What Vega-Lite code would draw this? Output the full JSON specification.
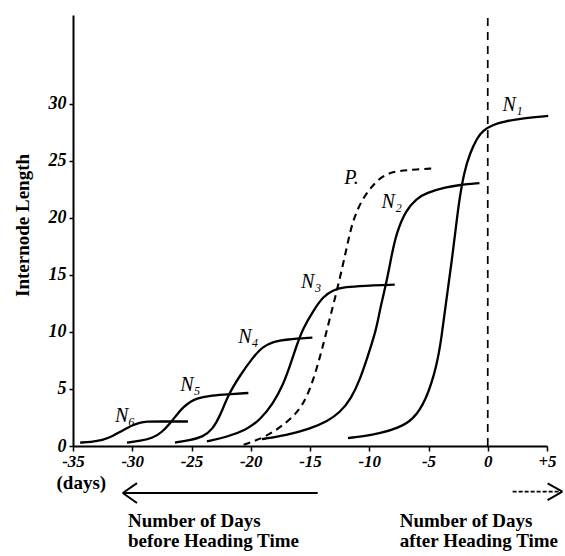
{
  "$schema": "https://vega.github.io/schema/vega-lite/v6.json",
  "width": 474,
  "height": 431,
  "autosize": "none",
  "padding": {"left": 73, "top": 15, "right": 18, "bottom": 110},
  "background": "white",
  "config": {"view": {"stroke": null}},
  "datasets": {
    "curves": [
      {"series": "N6", "day": -34.4, "length": 0.3},
      {"series": "N6", "day": -33.5, "length": 0.35},
      {"series": "N6", "day": -32.5, "length": 0.5},
      {"series": "N6", "day": -31.7, "length": 0.85},
      {"series": "N6", "day": -31.0, "length": 1.25},
      {"series": "N6", "day": -30.4, "length": 1.6},
      {"series": "N6", "day": -29.9, "length": 1.85},
      {"series": "N6", "day": -29.4, "length": 2.05},
      {"series": "N6", "day": -28.8, "length": 2.15},
      {"series": "N6", "day": -27.5, "length": 2.15},
      {"series": "N6", "day": -25.3, "length": 2.15},
      {"series": "N5", "day": -30.45, "length": 0.3},
      {"series": "N5", "day": -29.3, "length": 0.45},
      {"series": "N5", "day": -28.25, "length": 0.7},
      {"series": "N5", "day": -27.5, "length": 1.2},
      {"series": "N5", "day": -26.8, "length": 2.0},
      {"series": "N5", "day": -26.2, "length": 2.8},
      {"series": "N5", "day": -25.7, "length": 3.4},
      {"series": "N5", "day": -25.1, "length": 3.9},
      {"series": "N5", "day": -24.5, "length": 4.2},
      {"series": "N5", "day": -23.5, "length": 4.4},
      {"series": "N5", "day": -22.5, "length": 4.5},
      {"series": "N5", "day": -20.2, "length": 4.65},
      {"series": "N4", "day": -26.4, "length": 0.3},
      {"series": "N4", "day": -25.2, "length": 0.5},
      {"series": "N4", "day": -24.0, "length": 0.8},
      {"series": "N4", "day": -23.2, "length": 1.5},
      {"series": "N4", "day": -22.6, "length": 2.6},
      {"series": "N4", "day": -21.9, "length": 4.5},
      {"series": "N4", "day": -20.9, "length": 6.2},
      {"series": "N4", "day": -19.8, "length": 7.8},
      {"series": "N4", "day": -19.0, "length": 8.7},
      {"series": "N4", "day": -18.1, "length": 9.15},
      {"series": "N4", "day": -17.0, "length": 9.35},
      {"series": "N4", "day": -14.8, "length": 9.5},
      {"series": "N3", "day": -23.7, "length": 0.4},
      {"series": "N3", "day": -22.0, "length": 0.8},
      {"series": "N3", "day": -20.4, "length": 1.4},
      {"series": "N3", "day": -19.2, "length": 2.3},
      {"series": "N3", "day": -18.1, "length": 3.75},
      {"series": "N3", "day": -17.3, "length": 5.3},
      {"series": "N3", "day": -16.7, "length": 7.0},
      {"series": "N3", "day": -16.1, "length": 8.9},
      {"series": "N3", "day": -15.6, "length": 10.3},
      {"series": "N3", "day": -14.7, "length": 11.9},
      {"series": "N3", "day": -13.9, "length": 13.1},
      {"series": "N3", "day": -13.05, "length": 13.7},
      {"series": "N3", "day": -12.0, "length": 13.95},
      {"series": "N3", "day": -10.5, "length": 14.05},
      {"series": "N3", "day": -7.85, "length": 14.15},
      {"series": "P", "day": -20.6, "length": 0.1},
      {"series": "P", "day": -18.7, "length": 0.8},
      {"series": "P", "day": -17.0, "length": 2.0},
      {"series": "P", "day": -15.6, "length": 3.45},
      {"series": "P", "day": -14.7, "length": 5.8},
      {"series": "P", "day": -14.0, "length": 8.4},
      {"series": "P", "day": -13.3, "length": 11.3},
      {"series": "P", "day": -12.5, "length": 14.6},
      {"series": "P", "day": -11.9, "length": 17.4},
      {"series": "P", "day": -11.4, "length": 19.8},
      {"series": "P", "day": -10.5, "length": 21.9},
      {"series": "P", "day": -9.1, "length": 23.6},
      {"series": "P", "day": -8.0, "length": 24.05},
      {"series": "P", "day": -6.9, "length": 24.2},
      {"series": "P", "day": -4.5, "length": 24.35},
      {"series": "N2", "day": -19.06, "length": 0.6},
      {"series": "N2", "day": -17.0, "length": 0.95},
      {"series": "N2", "day": -15.0, "length": 1.5},
      {"series": "N2", "day": -13.5, "length": 2.2},
      {"series": "N2", "day": -12.5, "length": 2.9},
      {"series": "N2", "day": -11.5, "length": 4.2},
      {"series": "N2", "day": -10.8, "length": 5.8},
      {"series": "N2", "day": -10.24, "length": 7.5},
      {"series": "N2", "day": -9.4, "length": 10.2},
      {"series": "N2", "day": -9.1, "length": 12.0},
      {"series": "N2", "day": -8.55, "length": 14.3},
      {"series": "N2", "day": -8.1, "length": 16.8},
      {"series": "N2", "day": -7.7, "length": 18.7},
      {"series": "N2", "day": -6.9, "length": 20.7},
      {"series": "N2", "day": -6.0, "length": 21.7},
      {"series": "N2", "day": -5.2, "length": 22.2},
      {"series": "N2", "day": -3.5, "length": 22.7},
      {"series": "N2", "day": -2.4, "length": 22.9},
      {"series": "N2", "day": -0.7, "length": 23.05},
      {"series": "N1", "day": -11.8, "length": 0.7},
      {"series": "N1", "day": -10.5, "length": 0.85},
      {"series": "N1", "day": -9.1, "length": 1.1},
      {"series": "N1", "day": -7.5, "length": 1.6},
      {"series": "N1", "day": -6.3, "length": 2.3},
      {"series": "N1", "day": -5.2, "length": 4.0},
      {"series": "N1", "day": -4.3, "length": 7.0},
      {"series": "N1", "day": -3.9, "length": 9.5},
      {"series": "N1", "day": -3.5, "length": 12.8},
      {"series": "N1", "day": -3.1, "length": 15.7},
      {"series": "N1", "day": -2.65, "length": 19.5},
      {"series": "N1", "day": -2.4, "length": 21.6},
      {"series": "N1", "day": -2.0, "length": 24.0},
      {"series": "N1", "day": -1.5, "length": 25.7},
      {"series": "N1", "day": -0.9, "length": 27.0},
      {"series": "N1", "day": -0.4, "length": 27.7},
      {"series": "N1", "day": 0.5, "length": 28.2},
      {"series": "N1", "day": 1.3, "length": 28.45},
      {"series": "N1", "day": 3.0, "length": 28.75},
      {"series": "N1", "day": 5.1, "length": 28.95}
    ],
    "labels": [
      {"label": "N₁", "day": 2.1, "length": 29.9},
      {"label": "N₂", "day": -8.1, "length": 21.4},
      {"label": "N₃", "day": -14.9, "length": 14.4},
      {"label": "N₄", "day": -20.2, "length": 9.6},
      {"label": "N₅", "day": -25.1, "length": 5.35},
      {"label": "N₆", "day": -30.6, "length": 2.6},
      {"label": "P.", "day": -11.5, "length": 23.5}
    ],
    "heading": [{"day": 0, "y1": 0, "y2": 38}],
    "notes": [
      {"text": "Number of Days", "day": -30.36, "length": -7.1},
      {"text": "before Heading Time", "day": -30.36, "length": -8.86},
      {"text": "Number of Days", "day": -7.43, "length": -7.1},
      {"text": "after Heading Time", "day": -7.43, "length": -8.86}
    ],
    "unit": [{"text": "(days)", "day": -34.3, "length": -3.75}],
    "arrowSolid": [
      {"x1": -30.8, "x2": -14.35, "y1": -4.12, "y2": -4.12},
      {"x1": -30.8, "x2": -29.6, "y1": -4.12, "y2": -3.25},
      {"x1": -30.8, "x2": -29.6, "y1": -4.12, "y2": -5.0},
      {"x1": 6.3, "x2": 5.05, "y1": -4.0, "y2": -3.27},
      {"x1": 6.3, "x2": 5.05, "y1": -4.0, "y2": -4.74}
    ],
    "arrowDashed": [
      {"x1": 2.1, "x2": 6.2, "y1": -4.0, "y2": -4.0}
    ]
  },
  "layer": [
    {
      "data": {"name": "curves"},
      "transform": [{"filter": "datum.series !== 'P'"}],
      "mark": {"type": "line", "interpolate": "basis", "color": "black", "strokeWidth": 2.3},
      "encoding": {
        "x": {
          "field": "day", "type": "quantitative",
          "scale": {"domain": [-35, 5], "nice": false, "zero": false},
          "axis": {
            "values": [-35, -30, -25, -20, -15, -10, -5, 0, 5],
            "labelExpr": "datum.value > 0 ? '+' + datum.value : '' + datum.value",
            "title": null, "grid": false,
            "domainColor": "black", "domainWidth": 2,
            "tickColor": "black", "tickWidth": 1.5, "tickSize": 5,
            "labelFont": "Liberation Serif", "labelFontStyle": "italic", "labelFontWeight": "bold", "labelFontSize": 17,
            "labelColor": "black", "labelPadding": 2, "labelFlush": false
          }
        },
        "y": {
          "field": "length", "type": "quantitative",
          "scale": {"domain": [0, 37.8], "nice": false},
          "axis": {
            "values": [0, 5, 10, 15, 20, 25, 30],
            "title": "Internode Length", "grid": false,
            "domainColor": "black", "domainWidth": 2,
            "tickColor": "black", "tickWidth": 1.5, "tickSize": 4,
            "labelFont": "Liberation Serif", "labelFontStyle": "italic", "labelFontWeight": "bold", "labelFontSize": 18,
            "labelColor": "black", "labelPadding": 3, "labelFlush": false,
            "titleFont": "Liberation Serif", "titleFontSize": 19, "titleFontWeight": "bold",
            "titleColor": "black", "titleX": -41, "titleY": 210, "titleBaseline": "bottom", "titleAlign": "center", "titleAngle": -90
          }
        },
        "detail": {"field": "series"}
      }
    },
    {
      "data": {"name": "curves"},
      "transform": [{"filter": "datum.series === 'P'"}],
      "mark": {"type": "line", "interpolate": "basis", "color": "black", "strokeWidth": 2.1, "strokeDash": [7, 5]},
      "encoding": {
        "x": {"field": "day", "type": "quantitative"},
        "y": {"field": "length", "type": "quantitative"}
      }
    },
    {
      "data": {"name": "heading"},
      "mark": {"type": "rule", "color": "black", "strokeWidth": 1.7, "strokeDash": [8, 6]},
      "encoding": {
        "x": {"field": "day", "type": "quantitative"},
        "y": {"field": "y1", "type": "quantitative"},
        "y2": {"field": "y2"}
      }
    },
    {
      "data": {"name": "labels"},
      "mark": {"type": "text", "font": "Liberation Serif", "fontStyle": "italic", "fontSize": 20, "color": "black", "align": "center", "baseline": "middle"},
      "encoding": {
        "x": {"field": "day", "type": "quantitative"},
        "y": {"field": "length", "type": "quantitative"},
        "text": {"field": "label"}
      }
    },
    {
      "data": {"name": "notes"},
      "mark": {"type": "text", "font": "Liberation Serif", "fontWeight": "bold", "fontSize": 19, "color": "black", "align": "left", "baseline": "alphabetic"},
      "encoding": {
        "x": {"field": "day", "type": "quantitative"},
        "y": {"field": "length", "type": "quantitative"},
        "text": {"field": "text"}
      }
    },
    {
      "data": {"name": "unit"},
      "mark": {"type": "text", "font": "Liberation Serif", "fontWeight": "bold", "fontSize": 19, "color": "black", "align": "center", "baseline": "alphabetic"},
      "encoding": {
        "x": {"field": "day", "type": "quantitative"},
        "y": {"field": "length", "type": "quantitative"},
        "text": {"field": "text"}
      }
    },
    {
      "data": {"name": "arrowSolid"},
      "mark": {"type": "rule", "color": "black", "strokeWidth": 2},
      "encoding": {
        "x": {"field": "x1", "type": "quantitative"},
        "x2": {"field": "x2"},
        "y": {"field": "y1", "type": "quantitative"},
        "y2": {"field": "y2"}
      }
    },
    {
      "data": {"name": "arrowDashed"},
      "mark": {"type": "rule", "color": "black", "strokeWidth": 1.6, "strokeDash": [4, 2]},
      "encoding": {
        "x": {"field": "x1", "type": "quantitative"},
        "x2": {"field": "x2"},
        "y": {"field": "y1", "type": "quantitative"},
        "y2": {"field": "y2"}
      }
    }
  ]
}
